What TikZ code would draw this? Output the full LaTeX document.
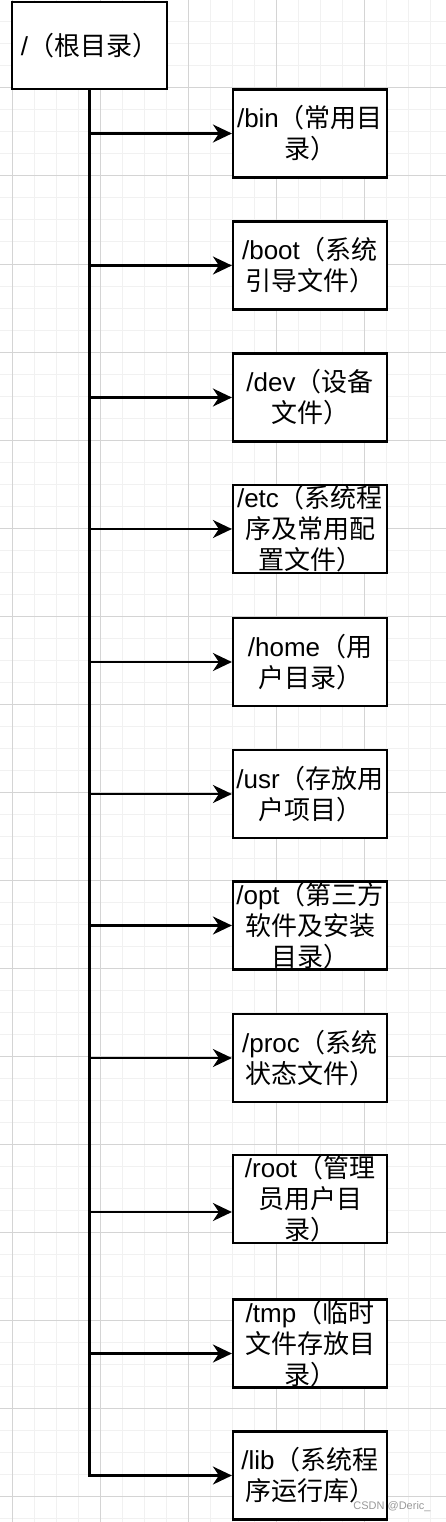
\documentclass[tikz,border=0pt]{standalone}
\usepackage{fontspec}
\setmainfont{Liberation Sans}
\newfontfamily\cjk{Noto Sans CJK SC}
\usetikzlibrary{arrows.meta}
\definecolor{gridminor}{HTML}{F1F1F1}
\definecolor{gridmajor}{HTML}{D4D4D4}
\definecolor{wmark}{HTML}{9A9A9A}
\tikzset{
  dirbox/.style={draw=black, line width=2.2pt, fill=white, minimum width=154pt, minimum height=88pt, inner sep=0pt},
  rootbox/.style={dirbox, minimum width=155pt, minimum height=87pt},
  dirlabel/.style={align=center, inner sep=0pt, font=\fontsize{26}{31}\selectfont},
  link/.style={draw=black, line width=2.2pt, -{Stealth[length=19pt, width=18pt, inset=6pt]}},
  trunk/.style={draw=black, line width=2.2pt},
}
\begin{document}
\begin{tikzpicture}[x=1pt, y=-1pt]
\useasboundingbox (0,0) rectangle (446,1522);
\fill[white] (0,0) rectangle (446,1522);
% grid
\foreach \gx in {12,34,...,446} {\draw[gridminor, line width=1pt] (\gx,0) -- (\gx,1522);}
\foreach \gy in {0,22,...,1522} {\draw[gridminor, line width=1pt] (0,\gy) -- (446,\gy);}
\foreach \gx in {12,100,...,446} {\draw[gridmajor, line width=1pt] (\gx,0) -- (\gx,1522);}
\foreach \gy in {0,88,...,1522} {\draw[gridmajor, line width=1pt] (0,\gy) -- (446,\gy);}

% root
\node[rootbox] (rootdir) at (89.5,45.5) {};
\node[dirlabel] (rootdirT) at (rootdir.center) {/{\cjk（根目录）}};

% children
\node[dirbox] (bin)  at (310,133.5) {};
\node[dirbox] (boot) at (310,265.5) {};
\node[dirbox] (dev)  at (310,397.5) {};
\node[dirbox] (etc)  at (310,529) {};
\node[dirbox] (home) at (310,662) {};
\node[dirbox] (usr)  at (310,794) {};
\node[dirbox] (opt)  at (310,925.5) {};
\node[dirbox] (proc) at (310,1058) {};
\node[dirbox] (rootd) at (310,1199) {};
\node[dirbox] (tmp)  at (310,1343.5) {};
\node[dirbox] (lib)  at (310,1475.5) {};

\node[dirlabel] (binT)  at (bin.center)  {/bin{\cjk（常用目}\\{\cjk 录）}};
\node[dirlabel] (bootT) at (boot.center) {/boot{\cjk（系统}\\{\cjk 引导文件）}};
\node[dirlabel] (devT)  at (dev.center)  {/dev{\cjk（设备}\\{\cjk 文件）}};
\node[dirlabel] (etcT)  at (etc.center)  {/etc{\cjk（系统程}\\{\cjk 序及常用配}\\{\cjk 置文件）}};
\node[dirlabel] (homeT) at (home.center) {/home{\cjk（用}\\{\cjk 户目录）}};
\node[dirlabel] (usrT)  at (usr.center)  {/usr{\cjk（存放用}\\{\cjk 户项目）}};
\node[dirlabel] (optT)  at (opt.center)  {/opt{\cjk（第三方}\\{\cjk 软件及安装}\\{\cjk 目录）}};
\node[dirlabel] (procT) at (proc.center) {/proc{\cjk（系统}\\{\cjk 状态文件）}};
\node[dirlabel] (rootdT) at (rootd.center) {/root{\cjk（管理}\\{\cjk 员用户目}\\{\cjk 录）}};
\node[dirlabel] (tmpT)  at (tmp.center)  {/tmp{\cjk（临时}\\{\cjk 文件存放目}\\{\cjk 录）}};
\node[dirlabel] (libT)  at (lib.center)  {/lib{\cjk（系统程}\\{\cjk 序运行库）}};

% connectors
\draw[link] (rootdir.south) |- (lib.west);
\foreach \c in {bin,boot,dev,etc,home,usr,opt,proc} {
  \draw[link] (rootdir.south |- \c.west) -- (\c.west);
}
\coordinate (rootdin) at ([yshift=-13pt]rootd.west);
\coordinate (tmpin) at ([yshift=-10pt]tmp.west);
\draw[link] (rootdir.south |- rootdin) -- (rootdin);
\draw[link] (rootdir.south |- tmpin) -- (tmpin);

% watermark
\node[text=wmark, font=\fontsize{11}{13}\selectfont, inner sep=0pt] (wm) at (392,1507) {CSDN @Deric\_};
\end{tikzpicture}
\end{document}
